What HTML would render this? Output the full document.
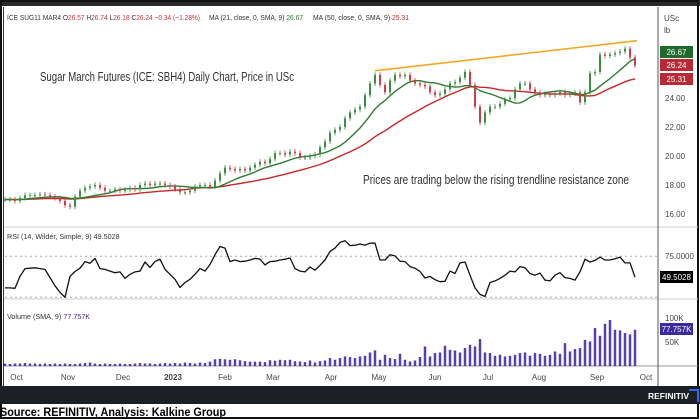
<!DOCTYPE html>
<html><head><meta charset="utf-8">
<style>
html,body{margin:0;padding:0;background:#fff;}
svg{display:block;font-family:"Liberation Sans",sans-serif;}
</style></head>
<body>
<svg id="chart" width="700" height="420" viewBox="0 0 700 420" xmlns="http://www.w3.org/2000/svg">
  <rect x="0" y="0" width="700" height="420" fill="#fff"/>
  <rect x="0" y="0" width="700" height="6" fill="#2a2a2a"/>
  <rect x="1" y="1" width="697" height="417" fill="none" stroke="#111" stroke-width="2"/>
  <line x1="4" y1="227" x2="698" y2="227" stroke="#cfcfcf"/>
  <line x1="4" y1="299" x2="698" y2="299" stroke="#cfcfcf"/>
  <line x1="4" y1="366" x2="698" y2="366" stroke="#9a9a9a"/>
  <line x1="658" y1="7" x2="658" y2="386" stroke="#555"/>
  <line x1="3.5" y1="7" x2="3.5" y2="386" stroke="#333"/>
  <rect x="0" y="386" width="700" height="18" fill="#1c1f26"/>
  <text x="648" y="399" font-size="8.5" font-weight="bold" fill="#fff">REFINITIV</text>
  <path d="M689 390 h9 v12" fill="none" stroke="#2a6cf0" stroke-width="2"/>
  <text x="0" y="416" font-size="11.5" font-weight="bold" fill="#000" textLength="226" lengthAdjust="spacingAndGlyphs">Source: REFINITIV, Analysis: Kalkine Group</text>

  <text x="7" y="20" font-size="7.2" fill="#333" textLength="193" lengthAdjust="spacingAndGlyphs">ICE SUG11 MAR4 O<tspan fill="#c8323c">26.57</tspan> H<tspan fill="#c8323c">26.74</tspan> L<tspan fill="#c8323c">26.18</tspan> C<tspan fill="#c8323c">26.24</tspan> <tspan fill="#c8323c">−0.34 (−1.28%)</tspan></text>
  <text x="209" y="20" font-size="7.2" fill="#333" textLength="94" lengthAdjust="spacingAndGlyphs">MA (21, close, 0, SMA, 9) <tspan fill="#2e7d32">26.67</tspan></text>
  <text x="313" y="20" font-size="7.2" fill="#333" textLength="96" lengthAdjust="spacingAndGlyphs">MA (50, close, 0, SMA, 9) <tspan fill="#c62828">25.31</tspan></text>
  <text x="40" y="81" font-size="12.5" fill="#333" textLength="254" lengthAdjust="spacingAndGlyphs">Sugar March Futures (ICE: SBH4) Daily Chart, Price in USc</text>
  <text x="363" y="184" font-size="12.5" fill="#333" textLength="266" lengthAdjust="spacingAndGlyphs">Prices are trading below the rising trendline resistance zone</text>

  <text x="664" y="21" font-size="8" fill="#444">USc</text>
  <text x="664" y="33" font-size="8" fill="#444">lb</text>

  <text x="7" y="239" font-size="7.2" fill="#333">RSI (14, Wilder, Simple, 9)  49.5028</text>
  <line x1="5" y1="256.3" x2="658" y2="256.3" stroke="#aaa" stroke-dasharray="2,3"/>
  <line x1="5" y1="297.3" x2="658" y2="297.3" stroke="#aaa" stroke-dasharray="2,3"/>
  <text x="665" y="259" font-size="8" fill="#444">75.0000</text>
  <text x="7" y="319" font-size="7.2" fill="#333">Volume (SMA, 9)  <tspan fill="#3d2b9e">77.757K</tspan></text>
  <text x="665" y="321" font-size="8" fill="#444">100K</text>
  <text x="665" y="345" font-size="8" fill="#444">50K</text>

  <g id="gPrice"></g><g id="gRsi"></g><g id="gVol"></g><g id="gAxis"></g><g id="gBadges"></g>
</svg>
<script>
const closes = [
17.0,17.0,16.9,17.1,17.3,17.3,17.3,17.35,17.3,17.2,
17.1,16.9,16.6,16.5,17.2,17.6,17.8,17.9,18.0,17.8,
17.6,17.6,17.7,17.6,17.7,17.8,17.7,18.0,18.1,18.0,
18.1,18.1,18.0,17.9,17.7,17.5,17.5,17.6,17.9,18.0,
18.0,17.9,18.3,18.8,19.2,19.1,19.0,19.1,19.0,19.2,
19.4,19.6,19.5,19.8,20.2,20.2,20.1,20.3,20.2,19.9,
19.9,20.0,20.1,20.6,21.0,21.6,21.8,22.0,22.6,23.0,
23.2,23.4,24.2,25.0,25.6,24.9,24.4,25.2,25.6,25.5,
25.6,25.2,25.0,24.9,24.8,24.4,24.2,24.3,24.6,25.0,
25.1,25.4,25.8,24.9,23.4,22.3,23.0,23.4,23.4,23.6,
23.9,24.0,24.6,25.0,25.0,24.6,24.4,24.2,24.3,24.2,
24.3,24.4,24.2,24.3,24.4,23.7,24.4,25.7,25.8,27.0,
26.9,27.0,27.1,27.2,27.4,26.8,26.24];
const rsiValues = [
36.5,36.5,36,50.6,60,60.5,61,60,59,49,39,31,25,50.6,56.5,60.5,68.5,66.5,72.5,60,
59,57,55,56,48,53,56,57,68,61.5,68.5,71.5,59,53,47,37,43,47,53,60,
57,65,77,87,85,68.5,70.5,68.5,69,70.5,72.5,71.5,64.5,68.5,69,70.5,71.5,73,60,57,
56,62,58,64,70.5,81,85,92,94,88,88.5,90,88.5,91,91,70.5,70.5,77,75.5,69,
68.5,62.5,60.5,56.5,48.5,50.5,46.5,44,44.5,57,54,67,68,52,36.5,28.5,26,43,45,48,
52,57,56,62.5,61,54,52,54.5,46,45,52,55,49,48,46,56,71.5,68,70,74,
70.5,70.5,72,74,67,67,49.5];
const volumeK = [
4,3,4,4,5,4,4,3,4,3,4,3,4,3,3,4,5,6,4,3,
4,3,3,4,3,3,4,5,4,4,3,4,5,4,5,4,6,5,4,6,
5,8,13,14,13,12,13,11,9,8,8,8,7,11,10,12,11,12,9,
8.4,7,10.5,6.3,9,10.5,15.5,12,15.5,19,17.6,15.5,19,20.4,27.4,31.7,12,22.5,15.5,13.4,
24.6,12,8.4,10.5,17.6,40,19,26,27.4,41.5,33,31.7,27.4,36.6,43.6,40,55.6,27.4,26,20.4,
22.5,19,20.4,22.5,26,27.4,20.4,26,24.6,20.4,22.5,29.5,24.6,47,29.5,34.5,36.6,54,50.6,78.8,
62.6,88,96,75.3,73.9,68.2,65.4,75.3];
const priceTicks = [24, 22, 20, 18, 16];
const trendPrices = [25.88, 27.95];
const trendIdx = [74, 126.4];
const monthLabels = ["Oct","Nov","Dec","2023","Feb","Mar","Apr","May","Jun","Jul","Aug","Sep","Oct"];
const monthIdx = [2.3, 12.6, 23.6, 33.6, 44, 53.6, 65.2, 74.8, 86, 96.6, 106.8, 118.4, 128.2];

const NS = "http://www.w3.org/2000/svg";
function xOf(i){ return 5 + 5*i; }
function yP(p){ return 98 + (24 - p)*14.5; }
function yR(v){ return 256.3 + (75 - v)*0.82; }
function yV(k){ return 365.7 - k*0.474; }
function mk(tag, attrs, parent){
  const e = document.createElementNS(NS, tag);
  for (const k in attrs) e.setAttribute(k, attrs[k]);
  parent.appendChild(e);
  return e;
}
const gPrice = document.getElementById("gPrice");
const gRsi = document.getElementById("gRsi");
const gVol = document.getElementById("gVol");
const gAxis = document.getElementById("gAxis");
const gBadges = document.getElementById("gBadges");

priceTicks.forEach(function(t){
  const tx = mk("text", {x:665, y:yP(t)+3, "font-size":8, fill:"#444"}, gAxis);
  tx.textContent = t.toFixed(2);
  
  
});

function sma(period){
  const out = [];
  for (let i=0;i<closes.length;i++){
    let s=0;
    for (let j=i-period+1;j<=i;j++){ s += closes[Math.max(0,j)]; }
    out.push(s/period);
  }
  return out;
}
function drawLine(vals, yf, color, width, parent, name){
  let d = "";
  vals.forEach(function(v,i){ d += (i?"L":"M") + xOf(i).toFixed(1) + " " + yf(v).toFixed(1); });
  const p = mk("path", {d:d, fill:"none", stroke:color, "stroke-width":width, "stroke-linejoin":"round"}, parent);
  
  
  return p;
}
drawLine(sma(25), yP, "#c62828", 1.4, gPrice, "ma50-line");
drawLine(sma(10), yP, "#2e7d32", 1.4, gPrice, "ma21-line");

closes.forEach(function(c,i){
  const o = i ? closes[i-1] : c;
  const up = c >= o;
  const col = up ? "#3a8f3f" : "#d23b48";
  const hi = Math.max(o,c) + 0.18, lo = Math.min(o,c) - 0.18;
  const x = xOf(i);
  const w = mk("line", {x1:x, x2:x, y1:yP(hi), y2:yP(lo), stroke:col, "stroke-width":0.8}, gPrice);
  
  
  const top = yP(Math.max(o,c)), bot = yP(Math.min(o,c));
  const b = mk("rect", {x:x-1, y:top, width:2, height:Math.max(1, bot-top), fill:col}, gPrice);
  
  
});

const tl = mk("line", {x1:xOf(trendIdx[0]), y1:yP(trendPrices[0]), x2:xOf(trendIdx[1]), y2:yP(trendPrices[1]), stroke:"#f5a623", "stroke-width":1.6}, gPrice);



drawLine(rsiValues, yR, "#111", 1.3, gRsi, "rsi-line");

volumeK.forEach(function(v,i){
  const r = mk("rect", {x:xOf(i)-1, y:yV(v), width:2, height:365.7-yV(v), fill:"#5a4cc0", stroke:"#2f2290", "stroke-width":0.4}, gVol);
  
  
});

monthLabels.forEach(function(m,k){
  const t = mk("text", {x:xOf(monthIdx[k]), y:380, "font-size":8, fill:"#444", "text-anchor":"middle", "font-weight": m==="2023" ? "bold" : "normal"}, gAxis);
  t.textContent = m;
  
  
});

function badge(y, h, fill, label, name){
  const r = mk("rect", {x:660, y:y, width:33, height:h, fill:fill}, gBadges);
  
  
  const t = mk("text", {x:676.5, y:y+h/2+3, "font-size":8, fill:"#fff", "text-anchor":"middle"}, gBadges);
  t.textContent = label;
  
  
}
badge(46, 12, "#1f6b2c", "26.67", "ma21-badge");
badge(59, 12, "#b82a35", "26.24", "last-price-badge");
badge(73, 12, "#b82a35", "25.31", "ma50-badge");
badge(271, 12, "#000", "49.5028", "rsi-value-badge");
badge(323, 12, "#3d2b9e", "77.757K", "volume-sma-badge");
</script>
</body></html>
